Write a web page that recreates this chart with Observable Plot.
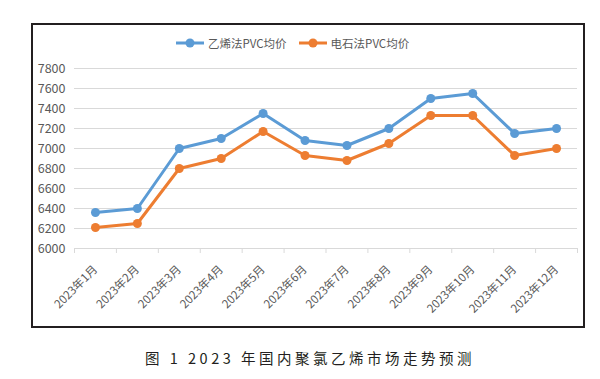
<!DOCTYPE html>
<html><head><meta charset="utf-8">
<script src="https://cdn.jsdelivr.net/npm/d3@7"></script>
<script src="https://cdn.jsdelivr.net/npm/@observablehq/plot@0.6"></script>
<style>
body{margin:0;background:#fff;}
#page{position:relative;width:600px;height:379px;font-family:"Noto Sans CJK SC",sans-serif;}
#frame{position:absolute;left:31px;top:23px;width:554px;height:305px;border:2px solid #231f20;box-sizing:border-box;background:#fff;}
#chart{position:absolute;left:0;top:33px;}
#legend{position:absolute;left:143px;top:10px;height:16px;display:flex;align-items:center;font-size:11.5px;color:#595959;font-family:"Noto Sans CJK SC",sans-serif;}
#legend .item{display:flex;align-items:center;margin-right:12px;}
#legend svg{margin-right:4px;}
#caption{position:absolute;top:347px;left:10px;width:600px;text-align:center;font-size:14.5px;letter-spacing:3.5px;color:#231f20;font-family:"Noto Sans CJK SC",sans-serif;}
</style>
</head><body>
<div id="page">
  <div id="frame">
    <div id="legend"></div>
    <div id="chart"></div>
  </div>
  <div id="caption">图 1 2023 年国内聚氯乙烯市场走势预测</div>
</div>
<script>
const months = ["2023年1月","2023年2月","2023年3月","2023年4月","2023年5月","2023年6月","2023年7月","2023年8月","2023年9月","2023年10月","2023年11月","2023年12月"];
const seriesNames = ["乙烯法PVC均价","电石法PVC均价"];
const ethylene = [6360, 6400, 7000, 7100, 7350, 7080, 7030, 7200, 7500, 7550, 7150, 7200];
const carbide  = [6210, 6250, 6800, 6900, 7170, 6930, 6880, 7050, 7330, 7330, 6930, 7000];
const yTicks = [6000, 6200, 6400, 6600, 6800, 7000, 7200, 7400, 7600, 7800];
const colors = ["#5b9bd5", "#ed7d31"];

const rows = [];
[ethylene, carbide].forEach((vals, s) => {
  vals.forEach((v, i) => rows.push({idx: i + 1, v, s: seriesNames[s]}));
});
const centers = months.map((_, i) => i + 1);
const bounds = [0.5, ...months.map((_, i) => i + 1.5)];

const chart = Plot.plot({
  width: 550,
  height: 265,
  marginLeft: 41,
  marginRight: 6,
  marginTop: 10,
  marginBottom: 75,
  style: {fontFamily: "'Liberation Sans Narrow','Noto Sans CJK SC',sans-serif", background: "transparent"},
  x: {domain: [0.5, months.length + 0.5]},
  y: {domain: [yTicks[0], yTicks[yTicks.length - 1]]},
  color: {domain: seriesNames, range: colors},
  marks: [
    Plot.gridY(yTicks, {stroke: "#d9d9d9", strokeOpacity: 1}),
    Plot.axisY({ticks: yTicks, tickSize: 0, tickPadding: 9, tickFormat: d => String(d), fontSize: 12.5, fill: "#595959", label: null}),
    Plot.axisX({ticks: bounds, tickSize: 5, tickFormat: () => "", stroke: "#d9d9d9", label: null}),
    Plot.axisX({ticks: centers, tickSize: 0, tickPadding: 19, tickRotate: -45, tickFormat: d => months[d - 1], fontSize: 11.5, fill: "#595959", label: null, fontFamily: "'Liberation Sans Narrow','Noto Sans CJK SC',sans-serif"}),
    Plot.line(rows, {x: "idx", y: "v", z: "s", stroke: "s", strokeWidth: 3}),
    Plot.dot(rows, {x: "idx", y: "v", fill: "s", r: 4.5})
  ]
});
document.getElementById("chart").appendChild(chart);

const legend = document.getElementById("legend");
seriesNames.forEach((name, i) => {
  const item = document.createElement("div");
  item.className = "item";
  item.innerHTML = `<svg width="28" height="10"><line x1="0" x2="28" y1="5" y2="5" stroke="${colors[i]}" stroke-width="3"/><circle cx="14" cy="5" r="4.5" fill="${colors[i]}"/></svg><span>${name}</span>`;
  legend.appendChild(item);
});
</script>
</body></html>
